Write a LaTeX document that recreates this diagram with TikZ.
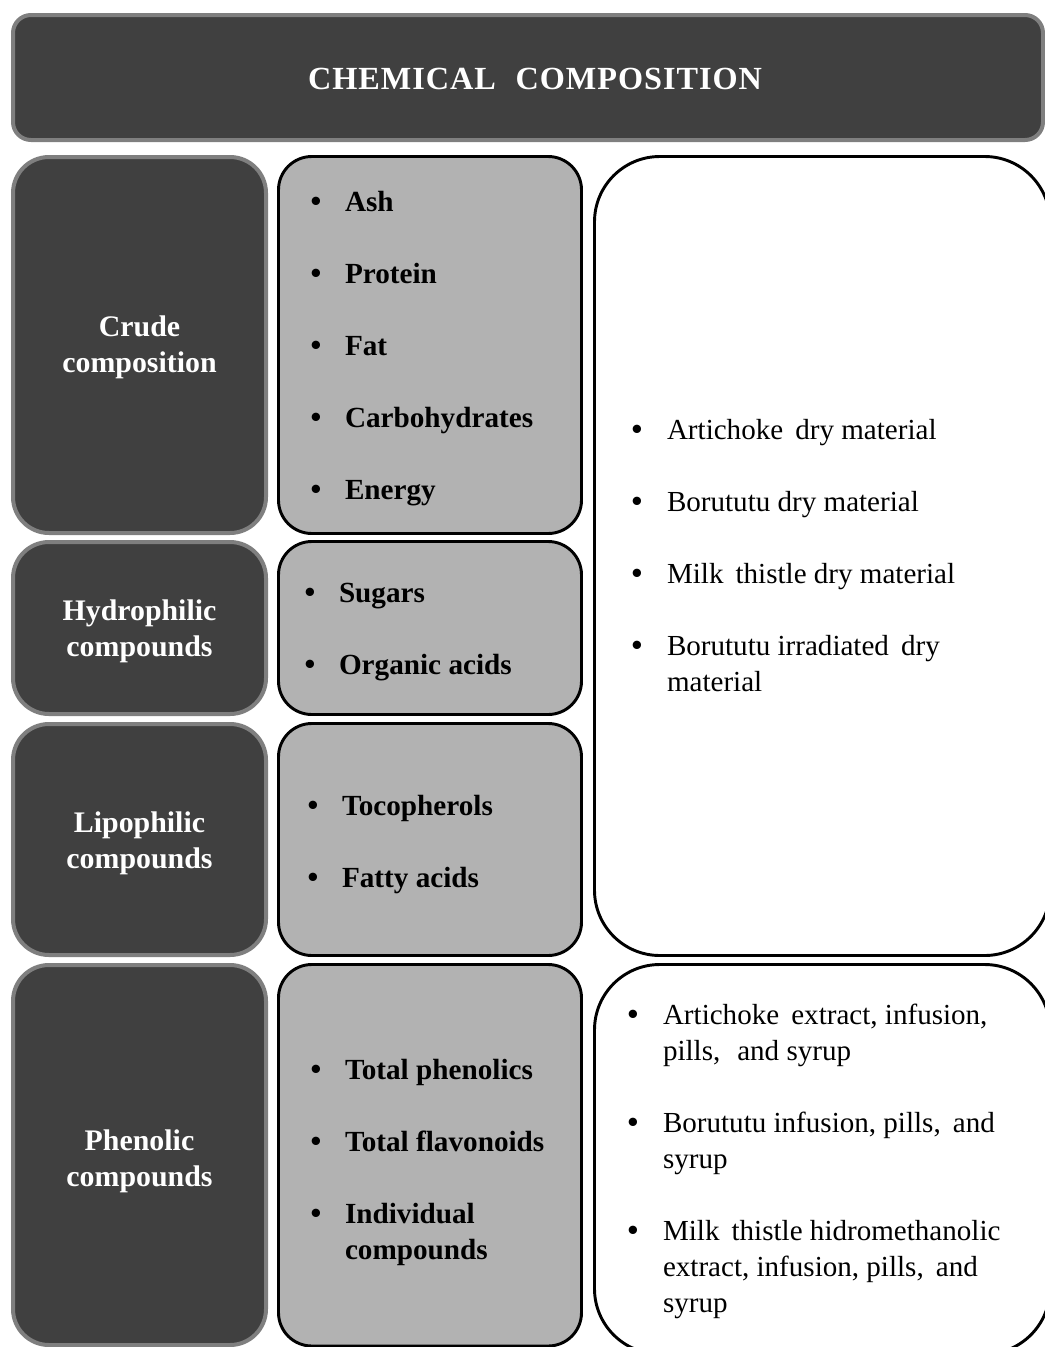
\documentclass[tikz,border=0pt]{standalone}
\usepackage{fontspec}
\setmainfont{Liberation Serif}

\definecolor{panel}{HTML}{404040}
\definecolor{rim}{HTML}{7F7F7F}
\definecolor{listfill}{HTML}{B2B2B2}

\tikzset{
  every node/.style={inner sep=0pt, outer sep=0pt},
  headbox/.style={draw=rim, fill=panel, line width=3pt, rounded corners=13.5pt},
  groupbox/.style={draw=rim, fill=panel, line width=3pt, rounded corners=27pt},
  listbox/.style={draw=black, fill=listfill, line width=2.2pt, rounded corners=25pt},
  samplebox/.style={draw=black, fill=white, line width=2.2pt, rounded corners=49pt},
  headtext/.style={anchor=base, text=white,
    font=\fontsize{24.2}{28}\selectfont\bfseries\addfontfeatures{LetterSpace=3}},
  grouptext/.style={anchor=base, text=white, font=\fontsize{22.4}{27}\selectfont\bfseries},
  listtext/.style={anchor=base west, font=\fontsize{21.9}{27}\selectfont\bfseries},
  sampletext/.style={anchor=base west, font=\fontsize{21.8}{27}\selectfont},
  dot/.style={anchor=base, font=\fontsize{23}{27}\selectfont\bfseries},
}

% rounded panel given by its corners (x1,y1) and (x2,y2), in pixel units
\newcommand\mkbox[6]{%
  \node[#1, anchor=north west,
        minimum width={(#4-#2)*0.75pt}, minimum height={(#5-#3)*0.75pt}]
        (#6) at (#2,#3) {};}
% bulleted entry: name, bullet x, text x, baseline y, style, text
\newcommand\entry[6]{%
  \node[dot] (#1-dot) at (#2,#4) {\textbullet};
  \node[#5] (#1) at (#3,#4) {#6};}

\begin{document}
\begin{tikzpicture}[x=0.75pt, y=-0.75pt]
\useasboundingbox (0,0) rectangle (1045,1347);
\clip (0,0) rectangle (1045,1347);

% header
\mkbox{headbox}{13}{15}{1043}{140}{head}
\node[headtext] (title) at (535,89) {CHEMICAL\,\, COMPOSITION};

% left column: group names
\mkbox{groupbox}{13}{157}{266}{533}{gcrude}
\mkbox{groupbox}{13}{542}{266}{714}{ghydro}
\mkbox{groupbox}{13}{724}{266}{955}{glipo}
\mkbox{groupbox}{13}{965}{266}{1345}{gphen}

\node[grouptext] (gcrude1) at (139.5,336) {Crude};
\node[grouptext] (gcrude2) at (139.5,372) {composition};
\node[grouptext] (ghydro1) at (139.5,620) {Hydrophilic};
\node[grouptext] (ghydro2) at (139.5,656) {compounds};
\node[grouptext] (glipo1) at (139.5,832) {Lipophilic};
\node[grouptext] (glipo2) at (139.5,868) {compounds};
\node[grouptext] (gphen1) at (139.5,1150) {Phenolic};
\node[grouptext] (gphen2) at (139.5,1186) {compounds};

% middle column: parameters
\mkbox{listbox}{278.5}{156.5}{581.5}{533.5}{lcrude}
\mkbox{listbox}{278.5}{541.5}{581.5}{714.5}{lhydro}
\mkbox{listbox}{278.5}{723.5}{581.5}{955.5}{llipo}
\mkbox{listbox}{278.5}{964.5}{581.5}{1346}{lphen}

\entry{ash}{316}{345}{211}{listtext}{Ash}
\entry{protein}{316}{345}{283}{listtext}{Protein}
\entry{fat}{316}{345}{355}{listtext}{Fat}
\entry{carb}{316}{345}{427}{listtext}{Carbohydrates}
\entry{energy}{316}{345}{499}{listtext}{Energy}

\entry{sugars}{310}{339}{602}{listtext}{Sugars}
\entry{acids}{310}{339}{674}{listtext}{Organic acids}

\entry{toco}{313}{342}{815}{listtext}{Tocopherols}
\entry{fatty}{313}{342}{887}{listtext}{Fatty acids}

\entry{tphen}{316}{345}{1079}{listtext}{Total phenolics}
\entry{tflav}{316}{345}{1151}{listtext}{Total flavonoids}
\entry{indiv}{316}{345}{1223}{listtext}{Individual}
\node[listtext] (indiv2) at (345,1259) {compounds};

% right column: samples
\mkbox{samplebox}{594.5}{156.5}{1050}{955.5}{sdry}
\mkbox{samplebox}{594.5}{964.5}{1050}{1354}{sprep}

\entry{art}{637}{667}{439}{sampletext}{Artichoke\, dry material}
\entry{bor}{637}{667}{511}{sampletext}{Borututu dry material}
\entry{milk}{637}{667}{583}{sampletext}{Milk\, thistle dry material}
\entry{irr}{637}{667}{655}{sampletext}{Borututu irradiated\, dry}
\node[sampletext] (irr2) at (667,691) {material};

\entry{artp}{633}{663}{1024}{sampletext}{Artichoke\, extract, infusion,}
\node[sampletext] (artp2) at (663,1060) {pills,\,\, and syrup};
\entry{borp}{633}{663}{1132}{sampletext}{Borututu infusion, pills,\, and}
\node[sampletext] (borp2) at (663,1168) {syrup};
\entry{milkp}{633}{663}{1240}{sampletext}{Milk\, thistle hidromethanolic}
\node[sampletext] (milkp2) at (663,1276) {extract, infusion, pills,\, and};
\node[sampletext] (milkp3) at (663,1312) {syrup};
\end{tikzpicture}
\end{document}
